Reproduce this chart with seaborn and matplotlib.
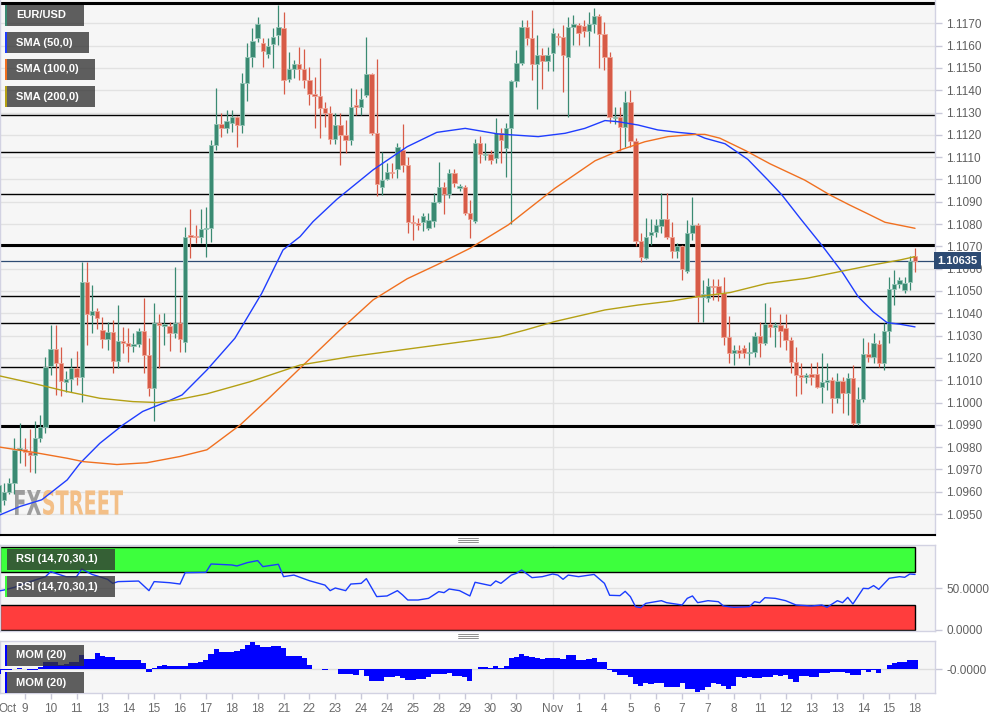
import matplotlib
matplotlib.use("Agg")
import matplotlib.pyplot as plt
import seaborn as sns
import pandas as pd
import numpy as np
from matplotlib.patches import Rectangle, PathPatch
from matplotlib.textpath import TextPath
from matplotlib.font_manager import FontProperties
from matplotlib.transforms import Affine2D, blended_transform_factory
from matplotlib.lines import Line2D

# EUR/USD 4h candles, 9 Oct - 18 Nov 2019 (prices in pips, 1.0951 -> 10951)
opens = [10951, 10956.3, 10960, 10963.8, 10978.8, 10979, 10978, 10976.5, 10984.3, 10989.2,
         11016.4, 11023.9, 11017.6, 11009.4, 11010.7, 11015.4, 11011.3, 11054.2, 11039.3, 11040.8,
         11032.5, 11028.5, 11031.5, 11018.6, 11027.6, 11026.6, 11025.4, 11026.1, 11032.2, 11021.3,
         11006.4, 11035.5, 11034.3, 11034.5, 11031.3, 11035.5, 11027, 11075, 11074.8, 11074.4,
         11077.7, 11078.1, 11115.5, 11125, 11123, 11125.2, 11127.9, 11124.4, 11143.4, 11154.8,
         11163.6, 11161.3, 11156.2, 11160.6, 11164.8, 11168, 11144.9, 11149.5, 11151.8, 11149.5,
         11144.6, 11138.2, 11137.4, 11131.9, 11129.6, 11118, 11124.4, 11119.9, 11117.7, 11133.2,
         11132.3, 11137.7, 11147.3, 11121, 11096.8, 11100.2, 11103.5, 11104.5, 11113.2, 11106.5,
         11081.1, 11080.3, 11081.1, 11078.1, 11081.5, 11090.1, 11096.8, 11093.5, 11103.1, 11096.3,
         11096.5, 11084.8, 11081.5, 11116.5, 11110.8, 11111.4, 11109.8, 11121, 11114, 11123,
         11144.1, 11152.4, 11168.5, 11163.3, 11151.6, 11155.8, 11153.3, 11156.5, 11164.5, 11163.7,
         11154.7, 11168.5, 11169.2, 11168.8, 11166.5, 11169.5, 11173.4, 11165, 11154.7, 11127.6,
         11128.1, 11123.7, 11134.6, 11117.2, 11072.6, 11064.7, 11075.3, 11076.3, 11079.3, 11082.1,
         11074.1, 11068.1, 11070.3, 11059.1, 11075.9, 11079.6, 11047.5, 11046.7, 11052.2, 11052.2,
         11048.9, 11029.2, 11022.1, 11023.5, 11024.3, 11022.4, 11022.8, 11030, 11026.5, 11035,
         11034, 11034.7, 11033.2, 11028, 11018.3, 11012.4, 11011.6, 11012.6, 11012.6, 11006.8,
         11009.4, 11010.1, 11001.9, 11009.6, 11004.1, 11010.8, 10990.7, 11001.4, 11021.7, 11020.2,
         11026.1, 11017.9, 11032.1, 11050.9, 11053.1, 11050.4, 11054.2, 11065.7]
highs = [10966, 10963.8, 10966, 10984, 10990.7, 10984, 10988, 10991.5, 10994.5, 11020.6,
         11034.8, 11034.8, 11024.8, 11013.9, 11019.8, 11023.3, 11063.2, 11063.2, 11052.7, 11042.3,
         11038.5, 11036.3, 11037, 11043.8, 11034, 11033.3, 11031, 11033.3, 11046.7, 11028.8,
         11044.8, 11039.7, 11040, 11036.3, 11060.9, 11047.5, 11078.6, 11086.6, 11079.6, 11086.8,
         11087.8, 11117.7, 11141, 11130, 11131, 11131.1, 11128.5, 11147.6, 11161, 11167.7,
         11172.7, 11163.3, 11163.3, 11167.7, 11178.2, 11175.2, 11157.3, 11153.5, 11159.5, 11158.3,
         11150.6, 11146, 11154.3, 11134.9, 11132.9, 11129.6, 11129.6, 11126.7, 11140.9, 11140.5,
         11140.9, 11163.7, 11147.9, 11153.8, 11112.4, 11107.2, 11107.2, 11116.5, 11124.9, 11110.2,
         11084, 11082.6, 11084.8, 11084.8, 11094.1, 11107.7, 11099, 11104.5, 11104.5, 11098,
         11097.5, 11090.8, 11118, 11119.5, 11116.5, 11113.2, 11127.4, 11122.9, 11125.5, 11144.5,
         11158, 11171.5, 11171.5, 11176, 11164.8, 11158.8, 11159.5, 11167.7, 11165.5, 11169.2,
         11173, 11173.7, 11170.3, 11171.5, 11175.2, 11176.7, 11174.2, 11170.7, 11157.3, 11132.6,
         11132.3, 11139.8, 11140.1, 11118.4, 11075.9, 11082.6, 11082.1, 11082.1, 11093.8, 11093.8,
         11081.1, 11071.7, 11070.6, 11081.8, 11092, 11080.3, 11055, 11055.7, 11055.5, 11055.2,
         11056.4, 11038.8, 11025.8, 11025.8, 11025.8, 11027.3, 11031.8, 11036.3, 11044.5, 11043,
         11036.3, 11039.5, 11039.5, 11029.5, 11025, 11017.6, 11013.4, 11017.9, 11018.3, 11022.1,
         11017.6, 11011.6, 11013.4, 11011.6, 11013.1, 11016.8, 11007.1, 11028.8, 11027.3, 11031.3,
         11028, 11035.8, 11056.4, 11059.4, 11056.4, 11056.4, 11065.7, 11069.4]
lows = [10946, 10954, 10959, 10959, 10973, 10971.6, 10969, 10968.3, 10982.5, 10986.2,
        11012.4, 11003.4, 11002.7, 11004.9, 11004.9, 11007.9, 11000.4, 11025.8, 11031, 11032.8,
        11024.3, 11023.6, 11013.1, 11015.4, 11022.1, 11018.3, 11022.8, 11025.1, 11013.1, 11002.7,
        10991.5, 11015.4, 11025.8, 11023.3, 11028.8, 11022.8, 11022.5, 11064.7, 11071.4, 11071.4,
        11065.1, 11072.1, 11113, 11119, 11121, 11121.4, 11114.7, 11121, 11135, 11150.6,
        11161.8, 11150.3, 11154.3, 11149.8, 11160.3, 11138.2, 11143.8, 11145.3, 11144.6, 11140.9,
        11133.4, 11122.9, 11118.4, 11123.7, 11115.9, 11115.9, 11106.5, 11111.7, 11115.5, 11128.9,
        11128.9, 11137.1, 11120, 11092.6, 11093, 11099.8, 11100.5, 11100.5, 11103.5, 11075.9,
        11072.9, 11077.4, 11077.1, 11077.3, 11078.9, 11089.3, 11084.5, 11091.6, 11096.8, 11095,
        11084.1, 11073.6, 11080.6, 11107.2, 11108.7, 11106.9, 11107.2, 11107.2, 11101, 11080.1,
        11141.3, 11151.3, 11160.3, 11144.6, 11131.4, 11140.4, 11148.8, 11148.8, 11160.3, 11139.4,
        11128.2, 11160.3, 11160.3, 11164, 11159.8, 11165.5, 11149.8, 11149.1, 11125.5, 11124.9,
        11112.9, 11114.7, 11114.7, 11070.2, 11063.2, 11064.2, 11070.6, 11074.1, 11075.9, 11073.2,
        11064.7, 11064.7, 11055, 11057.9, 11073, 11036.3, 11036.3, 11045.2, 11046, 11045.7,
        11025.8, 11017.6, 11016.8, 11019.8, 11019.8, 11016.8, 11020.6, 11020.6, 11025.8, 11029.5,
        11025, 11025, 11023.5, 11013.1, 11003, 11004, 11008.6, 11007.9, 11006.4, 10999.6,
        11005.6, 10995.5, 10999.6, 10995.2, 10994.4, 10989.9, 10989.9, 11000.4, 11018.3, 11017.9,
        11016.1, 11014.6, 11026.5, 11043.7, 11051.2, 11049, 11050.4, 11058.6]
closes = [10963, 10960, 10963.8, 10978.8, 10979.5, 10978, 10976.5, 10984, 10989.2, 11016.1,
          11023.9, 11017.6, 11009.7, 11010.7, 11015.4, 11011.3, 11054.2, 11039.6, 11040.8, 11037.8,
          11028.5, 11031.5, 11018.6, 11027.6, 11026.6, 11025.5, 11026.1, 11032.2, 11021.3, 11006.4,
          11035.5, 11034.6, 11035.1, 11031.3, 11035.5, 11028.5, 11074.4, 11074.1, 11074.1, 11077.7,
          11078.1, 11115.5, 11125, 11123, 11126, 11127.9, 11124.4, 11143.1, 11154.8, 11162.1,
          11169.7, 11157.6, 11160, 11164, 11168.5, 11144.6, 11149.5, 11151.8, 11149.5, 11144.6,
          11138.2, 11137.4, 11131.9, 11129.6, 11118, 11124.4, 11119.9, 11117.7, 11132.6, 11132.6,
          11136.2, 11147.3, 11121, 11098, 11099.8, 11103.5, 11102.8, 11114.4, 11106.5, 11081.1,
          11080.3, 11079.6, 11083.6, 11081.8, 11090.1, 11096.8, 11093.5, 11102.8, 11098.3, 11097.2,
          11084.8, 11082.3, 11116.5, 11111.4, 11111.6, 11108.7, 11121, 11117.7, 11123, 11144.1,
          11152.1, 11168.5, 11163.3, 11151.6, 11155.8, 11153.3, 11155.8, 11165.5, 11163.7, 11155.8,
          11168.5, 11169.5, 11165.8, 11166.5, 11169.5, 11173.4, 11165, 11154.7, 11127.9, 11128.1,
          11123.7, 11134.6, 11117.2, 11072.6, 11065.1, 11074.1, 11076.3, 11079.6, 11082.1, 11074.1,
          11068.1, 11070.3, 11059.7, 11075.9, 11079.6, 11047.5, 11048.5, 11052.2, 11051.6, 11048.9,
          11029.2, 11022.1, 11023.5, 11022.1, 11022.4, 11022.8, 11030, 11026.5, 11035, 11034,
          11034.7, 11032.2, 11028, 11018.3, 11012.4, 11011.6, 11012.4, 11011.6, 11007.1, 11009.4,
          11010.1, 11001.9, 11009.6, 11004.1, 11010.8, 10990.7, 11001.4, 11021.7, 11020.2, 11026.8,
          11017.9, 11032.1, 11050.9, 11053.1, 11054.9, 11053.8, 11063.6, 11063.5]

# moving averages (bar index, pips)
sma50_bar = [0.2, 4.1, 8.3, 9.9, 13.2, 15.7, 19.5, 24, 27.8, 32.5, 35.4, 40.2, 45.6, 50.8, 54.9,
             58.2, 60.7, 65.3, 72.3, 78.9, 84.6, 90.1, 96.4, 104.2, 109.4, 113.2, 117.1, 119.6,
             123.5, 127.3, 131.2, 134.5, 136.4, 140.3, 144.7, 148.6, 151.3, 154.8, 159.2, 163.1,
             166, 168.9, 171.6, 174.1, 177]
sma50 = [10949.6, 10953.4, 10956.4, 10959.3, 10965.3, 10972.8, 10981.7, 10990, 10996, 11000.4,
         11003.4, 11014.6, 11028.8, 11049, 11068.4, 11074.4, 11081.1, 11091.1, 11104.3, 11114.7,
         11121.1, 11122.9, 11120.4, 11119.2, 11120.7, 11122.9, 11126.4, 11125.9, 11124.4, 11122.2,
         11121.1, 11120.4, 11118.5, 11116, 11109, 11099.7, 11093, 11082.6, 11069.9, 11057.9,
         11047.5, 11040.7, 11035.8, 11035.1, 11033.9]
sma100_bar = [0.2, 6.6, 13.2, 16.3, 22.8, 28.6, 35, 40.2, 46.6, 51.8, 58.2, 65.9, 72.3, 78.9, 84.6,
              91, 98.4, 107.4, 115.2, 120.4, 124.8, 129.3, 134.5, 136.4, 139.3, 144.2, 149, 155.7,
              160.6, 164.4, 167.7, 171.2, 177]
sma100 = [10980, 10977.7, 10975, 10973.5, 10972.2, 10973, 10975.8, 10978.8, 10989.9, 11001.1,
          11015.4, 11032.5, 11046, 11055.5, 11061.7, 11069.1, 11079.6, 11096, 11108.4, 11113.5,
          11116.9, 11119.2, 11120.2, 11120.2, 11118.5, 11113, 11107, 11099.7, 11093, 11088.5,
          11084.8, 11080.8, 11078.1]
sma200_bar = [0.2, 6.6, 13.2, 19.5, 25.9, 30.6, 34.4, 40.2, 48.5, 58.2, 67.8, 77.5, 87.2, 96.8,
              101.7, 107.4, 117.1, 123.5, 130, 135.1, 141.3, 148.4, 156.1, 162.5, 168.9, 174.1, 177]
sma200 = [11011.9, 11008.6, 11004.9, 11001.9, 11000.4, 11000, 11001.2, 11003.9, 11009.3, 11016.8,
          11020.5, 11023.5, 11026.5, 11029.5, 11032.5, 11036.3, 11041.5, 11043.7, 11045.5, 11047.5,
          11049.3, 11053.4, 11055.7, 11058.7, 11061.7, 11063.9, 11065.4]

# RSI(14) samples (bar index, value)
rsi_bar = [0, 1, 3, 5, 7, 9, 10, 12, 13, 15, 16, 18, 19, 21, 22, 23, 27, 29, 30, 33, 35, 36, 40, 41,
           45, 46, 48, 50, 51, 54, 55, 57, 60, 63, 64, 65, 67, 68, 70, 71, 73, 75, 77, 78, 79, 81,
           83, 85, 86, 87, 89, 91, 92, 95, 96, 97, 99, 100, 101, 103, 105, 107, 108, 109, 110, 112,
           115, 117, 118, 120, 121, 122, 123, 124, 125, 128, 129, 132, 133, 134, 135, 137, 139, 140,
           142, 145, 146, 147, 148, 150, 152, 154, 157, 159, 160, 161, 162, 163, 164, 165, 167, 168,
           169, 170, 172, 174, 175, 176, 177]
rsi = [46.5, 47.7, 50.9, 55.7, 59.7, 63.7, 69.8, 65.7, 63.7, 63.7, 73.0, 66.5, 64.6, 60.6, 55.7, 57.8,
       58.5, 46.9, 57.8, 56.5, 54.9, 68.6, 69.0, 79.1, 77.9, 76.7, 80.7, 83.2, 75.9, 78.7, 63.8, 65.7,
       58.9, 53.6, 46.9, 50.1, 46.9, 54.9, 55.7, 61.4, 39.7, 40.5, 46.9, 41.7, 35.6, 35.6, 37.6, 45.7,
       44.5, 48.9, 46.9, 40.5, 57.0, 53.0, 58.6, 55.7, 65.7, 67.8, 71.8, 62.6, 63.8, 67.0, 65.7, 60.6,
       65.7, 63.8, 66.5, 55.7, 41.3, 40.9, 46.1, 39.7, 27.6, 26.4, 31.6, 34.8, 32.4, 29.6, 37.6, 40.5,
       32.4, 34.8, 33.6, 28.4, 26.8, 27.6, 33.6, 32.4, 38.4, 37.6, 34.8, 29.6, 28.4, 29.6, 26.8, 30.8,
       34.8, 32.4, 38.8, 30.8, 49.7, 49.3, 53.0, 48.5, 61.8, 63.8, 63.0, 67.0, 66.5]

# MOM(20), one bar per candle (pips)
mom = [-28, -4, -4, 0, 9, 0, -4, -4, 15, 43, 43, 43, 24, 28, 43, 43, 80, 56, 56, 90,
       75, 67, 67, 49, 49, 49, 49, 52, 34, -13, 9, 19, 24, 19, 19, 19, 19, 37, 37, 41,
       52, 86, 112, 99, 99, 99, 105, 112, 137, 153, 137, 123, 123, 131, 131, 118, 75, 75, 75, 65,
       24, 0, 0, -4, 0, 0, -26, -26, -26, -32, -4, -37, -64, -64, -64, -41, -41, -37, -47, -60,
       -60, -56, -56, -41, -26, -26, -26, -22, -37, -37, -41, -64, 0, 15, 15, 9, 19, 6, 19, 65,
       71, 86, 75, 71, 62, 60, 62, 62, 62, 56, 80, 80, 49, 52, 56, 62, 39, 39, -4, -13,
       -32, -32, -41, -82, -92, -79, -82, -79, -79, -97, -97, -101, -79, -112, -112, -125, -116, -101, -75, -82,
       -94, -112, -94, -41, -50, -45, -50, -50, -45, -41, -34, -37, -32, -56, -69, -37, -37, -41, -41, -19,
       -19, -13, -13, -13, -22, -32, -32, -4, -13, -4, -19, 0, 24, 37, 43, 43, 52, 52]

# support / resistance levels drawn on the chart
levels = [1.1179, 1.11289, 1.11122, 1.10933, 1.10707, 1.10476, 1.10355, 1.10158, 1.09895]
level_thick = [True, False, False, False, True, False, False, False, True]
last_price = 1.10635

tick_bars = [1.77, 5, 10, 15, 20, 25, 30, 35, 40, 45, 50, 55, 60, 65, 70, 75, 80, 85, 90, 95, 100,
             107, 112, 117, 122, 127, 132, 137, 142, 147, 152, 157, 162, 167, 172, 177]
tick_labels = ['Oct', '9', '10', '11', '13', '14', '15', '16', '17', '18', '18', '21', '22', '23',
               '24', '24', '25', '28', '29', '30', '30', 'Nov', '1', '4', '5', '6', '7', '7', '8',
               '11', '12', '13', '13', '14', '15', '18']

W, H = 1006, 719
sns.set_theme(style="white")
plt.rcParams['font.family'] = ['Liberation Sans', 'DejaVu Sans']

fig = plt.figure(figsize=(W / 100, H / 100), dpi=100)
fig.patch.set_facecolor('white')


def panel(top, bottom):
    return fig.add_axes([0, 1 - bottom / H, 935 / W, (bottom - top) / H])


ax = panel(0, 535)
ax_r = panel(545, 631)
ax_m = panel(640.7, 693.3)

bg = '#f6f6f6'
frame = '#d2d2e2'
x_lo, x_hi = 0.22, 180.86
for a in (ax, ax_r, ax_m):
    a.set_facecolor(bg)
    a.set_xlim(x_lo, x_hi)
    a.yaxis.tick_right()
    a.tick_params(axis='y', right=True, left=False, length=5, width=1, color='#c8c8d8',
                  labelsize=8.5, labelcolor='#5f5f5f', pad=3)
    for s in a.spines.values():
        s.set_color(frame)
        s.set_linewidth(1)
    a.axvline(107, color='#e2e2e2', lw=1, zorder=0.8)

# ---------------- price panel ----------------
df = pd.DataFrame({'open': opens, 'high': highs, 'low': lows, 'close': closes}) / 1e4
df['bar'] = np.arange(len(df))
up = df['close'] >= df['open']
green, red = '#3a8a72', '#d75b47'
cols = np.where(up, green, red)
edge = np.where(up, '#93c4b5', '#eea596')

ax.set_ylim(1.09406, 1.118045)
yt = np.round(np.arange(1.0950, 1.11705, 0.001), 4)
ax.set_yticks(yt)
ax.set_yticklabels([f'{v:.4f}' for v in yt])
ax.yaxis.grid(True, color='#e2e2e2', lw=1)
ax.set_axisbelow(True)
ax.tick_params(axis='x', bottom=False, labelbottom=False)
ax.spines['top'].set_visible(False)
ax.spines['bottom'].set_color('black')
ax.spines['bottom'].set_linewidth(1.5)

for lvl, thick in zip(levels, level_thick):
    ax.axhline(lvl, color='black', lw=2.2 if thick else 1.0, zorder=2)
ax.axhline(last_price, color='#2d4b73', lw=0.9, zorder=2)

ax.vlines(df['bar'], df['low'], df['high'], colors=cols, lw=0.9, zorder=3)
body_h = np.maximum((df['close'] - df['open']).abs(), 0.00003)
ax.bar(df['bar'], body_h, bottom=np.minimum(df['open'], df['close']), width=0.84,
       color=cols, edgecolor=edge, linewidth=0.6, zorder=4)

sns.lineplot(x=sma50_bar, y=np.array(sma50) / 1e4, ax=ax, color='#1f3dff', lw=1, zorder=5)
sns.lineplot(x=sma100_bar, y=np.array(sma100) / 1e4, ax=ax, color='#f07020', lw=1, zorder=5)
sns.lineplot(x=sma200_bar, y=np.array(sma200) / 1e4, ax=ax, color='#b4a014', lw=1, zorder=5)
ax.set_xlabel('')
ax.set_ylabel('')

ax.text(1.0028, last_price, f'{last_price:.5f}', transform=blended_transform_factory(ax.transAxes, ax.transData),
        ha='left', va='center', color='white', fontsize=8, fontweight='bold', clip_on=False, zorder=10,
        bbox=dict(boxstyle='square,pad=0.32', fc='#2d4b73', ec='none'))

# FXSTREET watermark, squeezed to the logo box
px2fig = Affine2D().scale(1 / W, 1 / H) + fig.transFigure
fp = FontProperties(family='DejaVu Sans', weight='bold')
for txt, x0, x1, colr in [('FX', 15, 41, '#9d9d9d'), ('STREET', 43, 123, '#f3bf87')]:
    tp = TextPath((0, 0), txt, size=40, prop=fp)
    e = tp.get_extents()
    tr = Affine2D().translate(-e.x0, -e.y0).scale((x1 - x0) / e.width, 25 / e.height).translate(x0, H - 515)
    ax.add_patch(PathPatch(tr.transform_path(tp), transform=px2fig, fc=colr, ec='none', zorder=1))

# ---------------- RSI panel ----------------
ax_r.set_ylim(-1.8, 102)
ax_r.add_patch(Rectangle((0.3, 70), 177 - 0.3, 30, fc='#3dff3d', ec='black', lw=1, zorder=2))
ax_r.add_patch(Rectangle((0.3, 0), 177 - 0.3, 30, fc='#ff3d3d', ec='black', lw=1, zorder=2))
ax_r.axhline(50, color='#e2e2e2', lw=1, zorder=1)
sns.lineplot(x=rsi_bar, y=rsi, ax=ax_r, color='#1a3cff', lw=1, zorder=4)
ax_r.set_yticks([0, 50])
ax_r.set_yticklabels(['0.0000', '50.0000'])
ax_r.tick_params(axis='x', bottom=False, labelbottom=False)
ax_r.set_xlabel('')
ax_r.set_ylabel('')

# ---------------- MOM panel ----------------
ax_m.set_ylim(-0.0135, 0.016)
ax_m.axhline(0, color='#dedede', lw=1, zorder=1)
ax_m.bar(df['bar'], np.array(mom) / 1e4, width=1.0, color='#0000ff', linewidth=0, zorder=3)
ax_m.set_yticks([0])
ax_m.set_yticklabels(['-0.0000'])
ax_m.set_xticks(tick_bars)
ax_m.set_xticklabels(tick_labels)
ax_m.tick_params(axis='x', bottom=True, length=4, width=1, color='#c8c8d8', labelsize=8.5,
                 labelcolor='#6a6a6a', pad=3)
ax_m.xaxis.get_major_ticks()[0].tick1line.set_visible(False)

# ---------------- legend tags ----------------
tags = [('EUR/USD', 5, 5, 84, 26, green), ('SMA (50,0)', 5, 32, 89, 53, '#1f3dff'),
        ('SMA (100,0)', 5, 59, 95, 80, '#f07020'), ('SMA (200,0)', 5, 86, 95, 107, '#b4a014'),
        ('RSI (14,70,30,1)', 5, 549, 115, 570, '#3dff3d'), ('RSI (14,70,30,1)', 5, 576, 115, 597, '#3dff3d'),
        ('MOM (20)', 5, 645, 84, 666, '#0000ff'), ('MOM (20)', 5, 672, 84, 693, '#0000ff')]
for label, x0, y0, x1, y1, sc in tags:
    fig.add_artist(Rectangle((x0 / W, 1 - y1 / H), (x1 - x0) / W, (y1 - y0) / H,
                             transform=fig.transFigure, fc='#333333', alpha=0.78, ec='none', zorder=5))
    fig.add_artist(Rectangle((x0 / W, 1 - y1 / H), 2 / W, (y1 - y0) / H,
                             transform=fig.transFigure, fc=sc, ec='none', zorder=6))
    fig.text(16 / W, 1 - (y0 + y1) / 2 / H, label, color='white', fontsize=8, fontweight='bold',
             va='center', ha='left', zorder=7)

# panel drag handles
for yy in (538, 540, 542, 634, 636, 638):
    fig.add_artist(Line2D([458 / W, 478 / W], [1 - yy / H] * 2, transform=fig.transFigure,
                          color='#7c7c7c', lw=0.6))

fig.savefig('out.png', dpi=100, facecolor='white')
plt.close(fig)
